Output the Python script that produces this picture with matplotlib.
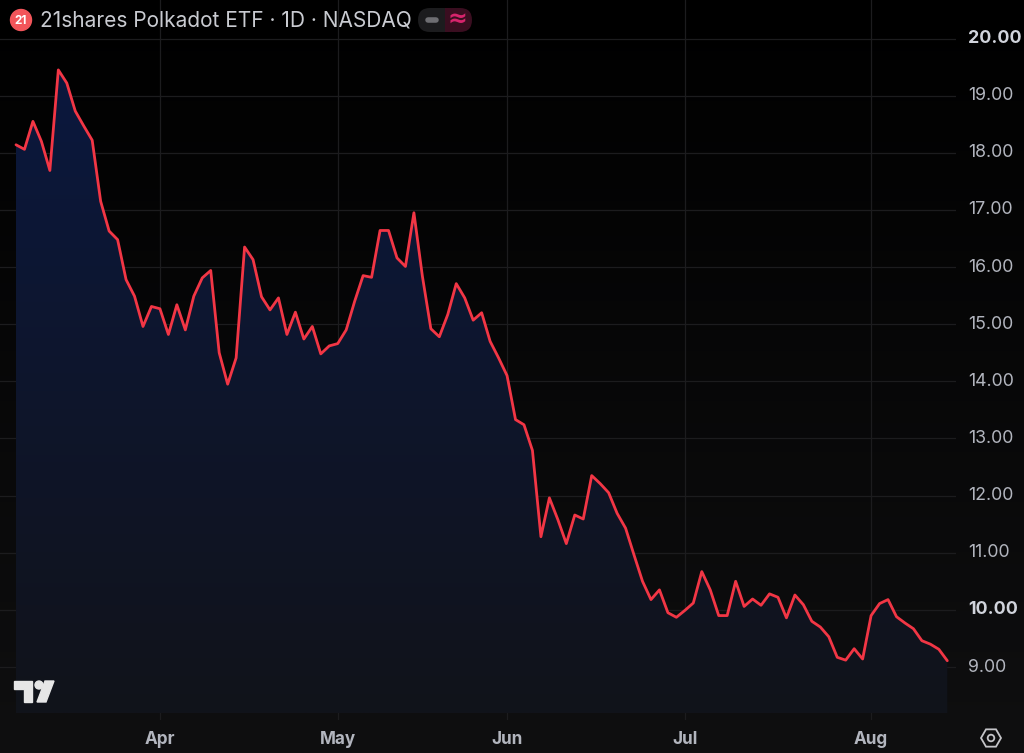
import numpy as np
import pandas as pd
import matplotlib
matplotlib.use('Agg')
import matplotlib.pyplot as plt
from matplotlib import transforms
from matplotlib.patches import Circle, Polygon, RegularPolygon, FancyBboxPatch, Rectangle

plt.rcParams['font.family'] = ['Inter', 'DejaVu Sans']

# ---- data ----
holidays = ['2026-04-03', '2026-05-25', '2026-06-19', '2026-07-03']
dates = pd.bdate_range('2026-03-09', '2026-08-14', freq='C', holidays=holidays)

closes = [
    18.14, 18.06, 18.55, 18.20, 17.69, 19.45, 19.22, 18.73, 18.47, 18.22,
    17.15, 16.63, 16.48, 15.78, 15.49, 14.96, 15.31, 15.27, 14.82, 15.34,
    14.90, 15.49, 15.81, 15.94, 14.50, 13.95, 14.41, 16.35, 16.13, 15.48,
    15.25, 15.46, 14.82, 15.21, 14.74, 14.96, 14.48, 14.62, 14.66, 14.90,
    15.40, 15.85, 15.82, 16.64, 16.64, 16.16, 16.01, 16.95, 15.84, 14.92,
    14.78, 15.17, 15.71, 15.46, 15.07, 15.20, 14.70, 14.41, 14.10, 13.33,
    13.24, 12.79, 11.28, 11.96, 11.58, 11.16, 11.66, 11.59, 12.35, 12.21,
    12.05, 11.69, 11.43, 10.96,
    10.50, 10.18, 10.35, 9.95, 9.87, 9.99, 10.12, 10.67, 10.35, 9.90,
    9.90, 10.50, 10.06, 10.19, 10.08, 10.28, 10.22, 9.86, 10.26, 10.09,
    9.80, 9.70, 9.53, 9.17, 9.12, 9.32, 9.14, 9.90, 10.11, 10.18,
    9.88, 9.77, 9.67, 9.46, 9.40, 9.31, 9.11,
]
month_labels = ['Apr', 'May', 'Jun', 'Jul', 'Aug']
month_nums = [4, 5, 6, 7, 8]
price_ticks = np.arange(9, 21)
bold_ticks = [10, 20]
title = '21shares Polkadot ETF · 1D · NASDAQ'

x = np.arange(len(dates))
y = np.array(closes)
month_pos = [int(np.argmax(dates.month == m)) for m in month_nums]

W, H = 1024, 753
fig = plt.figure(figsize=(W / 100, H / 100), dpi=100)
fig.patch.set_facecolor('black')
px = transforms.Affine2D().scale(1 / W, -1 / H).translate(0, 1) + fig.transFigure

# background gradient (black at top -> very dark grey at bottom)
bg = fig.add_axes([0, 0, 1, 1], zorder=-10)
t = np.linspace(0, 1, 256)[:, None, None]
top_c = np.array([0, 0, 0]) / 255
bot_c = np.array([15, 15, 16]) / 255
bg.imshow(top_c + (bot_c - top_c) * t * np.ones((1, 2, 3)), aspect='auto', extent=[0, 1, 0, 1])
bg.axis('off')

# main pane
ax = fig.add_axes([0, 33 / H, 956 / W, 720 / H])
ax.set_facecolor('none')
ppu = (667 - 38.5) / 11
ytop = 20 + 38.5 / ppu
ybot = 9 - (720 - 667) / ppu
fill_floor = 9 - (713 - 667) / ppu
step = (947.3 - 16) / (len(x) - 1)
xlo = -16 / step
xhi = (956 - 16) / step

for v in price_ticks:
    ax.axhline(v, color='#1c1c1e', lw=0.9, zorder=0)
for p in month_pos:
    ax.axvline(p, color='#1c1c1e', lw=0.9, zorder=0)

# gradient area under the line
verts = np.vstack([np.c_[x, y], [[x[-1], fill_floor], [x[0], fill_floor]]])
clip = Polygon(verts, closed=True, facecolor='none', edgecolor='none')
ax.add_patch(clip)
g = np.linspace(0, 1, 256)[:, None, None]
f_bot = np.array([17, 19, 26]) / 255
f_top = np.array([11, 24, 62]) / 255
im = ax.imshow(f_bot + (f_top - f_bot) * g * np.ones((1, 2, 3)), aspect='auto', origin='lower',
               extent=[x[0], x[-1], fill_floor, y.max()], zorder=1)
im.set_clip_path(clip)

ax.plot(x, y, color='#f23645', lw=2.0, zorder=3, solid_joinstyle='round', solid_capstyle='round')

ax.set_xlim(xlo, xhi)
ax.set_ylim(ybot, ytop)
ax.set_xticks([])
ax.set_yticks([])
for s in ax.spines.values():
    s.set_visible(False)

# price scale labels
ytr = transforms.blended_transform_factory(fig.transFigure, ax.transData)
for v in price_ticks:
    b = v in bold_ticks
    ax.text(968 / W, v, f'{v:.2f}', transform=ytr, ha='left', va='center',
            fontsize=12.8, color='#d1d4dc' if b else '#b2b5be',
            fontweight='bold' if b else 'normal', clip_on=False)

# time scale labels
xtr = transforms.blended_transform_factory(ax.transData, fig.transFigure)
for p, lab in zip(month_pos, month_labels):
    ax.text(p, 1 - 740 / H, lab, transform=xtr, ha='center', va='center',
            fontsize=12.3, fontweight='bold', color='#b2b5be', clip_on=False)

# header
fig.patches.append(Circle((21, 20), 10.5, transform=px, color='#f2555a'))
fig.text(21 / W, 1 - 20.5 / H, '21', ha='center', va='center', fontsize=8.5,
         fontweight='bold', color='white')
fig.text(40 / W, 1 - 20.5 / H, title, ha='left', va='center', fontsize=15, color='#c9cbd1')

fig.patches.append(FancyBboxPatch((418, 8), 30, 24, boxstyle='round,pad=0,rounding_size=12',
                                  transform=px, facecolor='#1c1c1e', edgecolor='none'))
fig.patches.append(FancyBboxPatch((440, 8), 32, 24, boxstyle='round,pad=0,rounding_size=12',
                                  transform=px, facecolor='#3a0e20', edgecolor='none'))
fig.patches.append(Rectangle((436, 8), 9, 24, transform=px, facecolor='#1c1c1e', edgecolor='none'))
fig.patches.append(Rectangle((445, 8), 6, 24, transform=px, facecolor='#3a0e20', edgecolor='none'))
fig.lines.append(plt.Line2D([428, 436], [20, 20], transform=px, color='#6e6e72', lw=4,
                            solid_capstyle='round'))
fig.text(457 / W, 1 - 19 / H, '≈', ha='center', va='center', fontsize=17,
         fontweight='bold', color='#d6246c', family=['DejaVu Sans'])

# tradingview logo
logo = '#e6e6e6'
fig.patches.append(Polygon([(14, 681), (31.5, 681), (31.5, 702), (24, 702), (24, 689), (14, 689)],
                           transform=px, color=logo))
fig.patches.append(Circle((39, 685), 4, transform=px, color=logo))
fig.patches.append(Polygon([(45, 681), (54, 681), (46, 702), (37, 702)], transform=px, color=logo))

# settings icon
fig.patches.append(RegularPolygon((991, 738), 6, radius=10, orientation=np.pi / 6, transform=px,
                                  facecolor='none', edgecolor='#c4c4c8', lw=1.3))
fig.patches.append(Circle((991, 738), 3.3, transform=px, facecolor='none',
                          edgecolor='#c4c4c8', lw=1.3))

fig.savefig('out.png', dpi=100, facecolor=fig.get_facecolor())
